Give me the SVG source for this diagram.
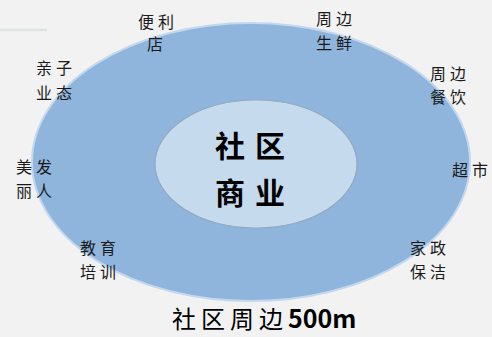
<svg xmlns="http://www.w3.org/2000/svg" width="492" height="337" viewBox="0 0 492 337">
<style>
.lbl{font-family:"Noto Sans CJK SC","Noto Sans",sans-serif;font-size:16px;fill:#1a1a1a;letter-spacing:4px;text-anchor:middle}
.core{font-family:"Noto Sans CJK SC","Noto Sans",sans-serif;font-size:30px;font-weight:bold;fill:#000;letter-spacing:10px;text-anchor:middle}
.ttl{font-family:"Noto Sans CJK SC","Noto Sans",sans-serif;font-size:24px;fill:#000}
</style>
<rect width="492" height="337" fill="#f2f2f2"/>
<line x1="0" y1="30" x2="47" y2="30" stroke="#dde2e2" stroke-width="2.5"/>
<g id="outer-ring">
<ellipse cx="251" cy="162" rx="219" ry="139" fill="#8fb5dc" stroke="#c3d8ee" stroke-width="2"/>
</g>
<g id="core">
<ellipse cx="256" cy="164" rx="101" ry="64" fill="#c6daee" stroke="#94a9c2" stroke-width="1.2"/>
<text class="core" x="255" y="157">社区</text>
<text class="core" x="255" y="204">商业</text>
</g>
<g id="connectors"></g>
<g id="n-bianli"><text class="lbl" x="158" y="28">便利<tspan x="157" dy="22">店</tspan></text></g>
<g id="n-shengxian"><text class="lbl" x="336" y="25">周边<tspan x="336" dy="24">生鲜</tspan></text></g>
<g id="n-qinzi"><text class="lbl" x="56" y="74">亲子<tspan x="56" dy="25">业态</tspan></text></g>
<g id="n-canyin"><text class="lbl" x="450" y="80">周边<tspan x="450" dy="23">餐饮</tspan></text></g>
<g id="n-meifa"><text class="lbl" x="36" y="173">美发<tspan x="36" dy="24">丽人</tspan></text></g>
<g id="n-chaoshi"><text class="lbl" x="472" y="176">超市</text></g>
<g id="n-jiaoyu"><text class="lbl" x="100" y="254">教育<tspan x="100" dy="24">培训</tspan></text></g>
<g id="n-jiazheng"><text class="lbl" x="430" y="254">家政<tspan x="430" dy="24">保洁</tspan></text></g>
<g id="title"><text class="ttl" x="172" y="328" letter-spacing="5">社区周边<tspan letter-spacing="0" font-weight="600" font-size="25">500m</tspan></text></g>
</svg>
